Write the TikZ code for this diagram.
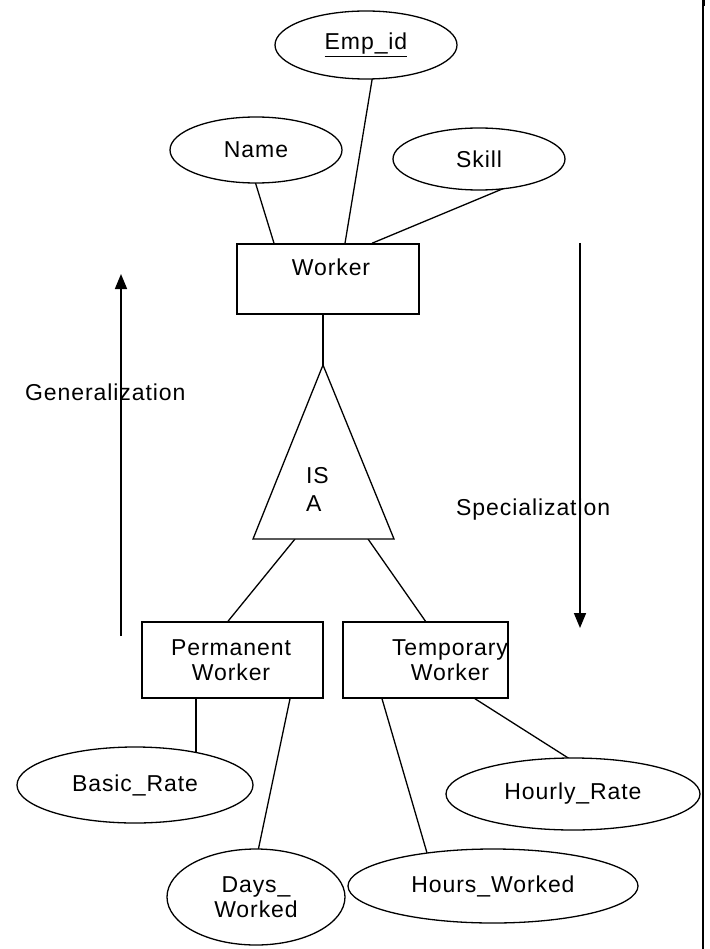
\documentclass[tikz,border=0pt]{standalone}
\usepackage{fontspec}
\setmainfont{Liberation Sans}[LetterSpace=4]
\usetikzlibrary{shapes.geometric,arrows.meta,calc,backgrounds}
\begin{document}
\begin{tikzpicture}[x=1pt,y=-1pt,
  every node/.style={font=\fontsize{23}{25}\selectfont},
  attr/.style={draw, ellipse, fill=white, line width=1.3pt, inner sep=0pt, align=center},
  entity/.style={draw, rectangle, fill=white, line width=1.5pt, inner sep=0pt},
  lbl/.style={align=center, inner sep=0pt},
  link/.style={line width=1.3pt},
  flow/.style={line width=1.6pt, -{Triangle[length=15pt,width=12pt]}}]
\useasboundingbox (0,0) rectangle (709,949);

% frame edge on the right
\draw[line width=1.5pt] (703,0) -- (703,949);
\fill (701.5,0) rectangle (705,6);

% attributes of Worker
\node[attr, minimum width=182, minimum height=68] (emp) at (366,45) {\underline{Emp\_id}};
\node[attr, minimum width=172, minimum height=66] (name) at (256,150) {Name};
\node[attr, minimum width=172, minimum height=62] (skill) at (479,159) {Skill};

% superclass entity
\node[entity, minimum width=182, minimum height=70] (worker) at (328,279) {};
\node[lbl] (workertxt) at (331,267) {Worker};

% IS A triangle
\coordinate (apex) at (323,365);
\coordinate (baseL) at (253,539);
\coordinate (baseR) at (394,539);
\coordinate (isaL) at (295,539);
\coordinate (isaR) at (368,539);
\draw[line width=1.3pt, fill=white] (apex) -- (baseL) -- (baseR) -- cycle;
\node[lbl, anchor=west, align=left, font=\fontsize{23}{28}\selectfont] (isa) at (306,489) {IS\\A};

% subclass entities
\node[entity, minimum width=181, minimum height=76] (perm) at (232.5,660) {};
\node[lbl] (permtxt) at (231,660) {Permanent\\Worker};
\node[entity, minimum width=165, minimum height=76] (temp) at (425.5,660) {};
\node[lbl] (temptxt) at (450,660) {Temporary\\Worker};

% attributes of the subclasses
\node[attr, minimum width=236, minimum height=76] (basic) at (135,785) {Basic\_Rate};
\node[attr, minimum width=178, minimum height=96] (days) at (256,897) {Days\_\\Worked};
\node[attr, minimum width=290, minimum height=74] (hours) at (493,886) {Hours\_Worked};
\node[attr, minimum width=254, minimum height=72] (hourly) at (573,794) {Hourly\_Rate};

% direction labels and arrows
\node[lbl, anchor=west] (gen) at (25,392) {Generalization};
\node[lbl, anchor=west] (spec) at (456,510) {Specialization};
\coordinate (gentail) at (121,636);
\coordinate (genhead) at (121,274);
\draw[flow] (gentail) -- (genhead);
\coordinate (spectail) at (580,243);
\coordinate (spechead) at (580,628);
\draw[flow] (spectail) -- (spechead);

% connectors, drawn beneath the shapes
\begin{scope}[on background layer]
\draw[link] ($(name)+(-4.5,20)$) -- ([xshift=-54pt]worker.north);
\draw[link] ($(emp)+(8.5,20)$) -- ([xshift=17pt]worker.north);
\draw[link] ($(skill)+(49.7,19)$) -- ([xshift=44pt]worker.north);
\draw[link] ([xshift=-5pt]worker.south) -- (apex);
\draw[link] (isaL) -- ([xshift=-4.5pt]perm.north);
\draw[link] (isaR) -- (temp.north);
\draw[link] ([xshift=-36.5pt]perm.south) -- ($(basic)+(61,0)$);
\draw[link] ([xshift=57.5pt]perm.south) -- ($(days)+(-2,-27)$);
\draw[link] ([xshift=-43.5pt]temp.south) -- ($(hours)+(-61,-16)$);
\draw[link] ([xshift=49.5pt]temp.south) -- ($(hourly)+(22,-19)$);
\end{scope}
\end{tikzpicture}
\end{document}
